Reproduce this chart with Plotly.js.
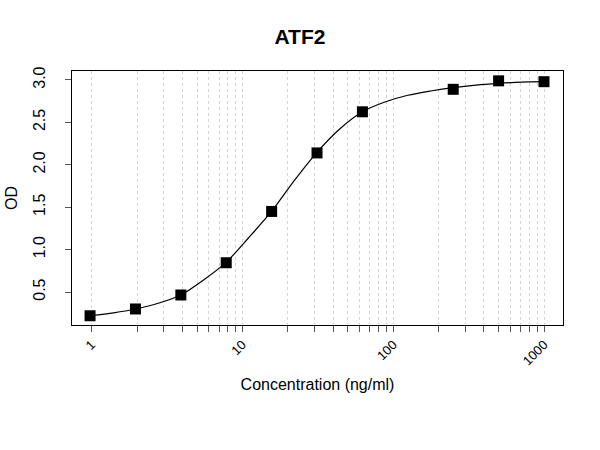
<!DOCTYPE html>
<html>
<head>
<meta charset="utf-8">
<script src="https://cdn.plot.ly/plotly-3.0.1.min.js"></script>
<style>
  body { margin: 0; background: #fff; }
  #chart { width: 600px; height: 450px; }
</style>
</head>
<body>
<div id="chart"></div>
<script>
// measured standards (two-fold dilution from 1000 ng/ml, 125 missing)
const conc = [0.9765625, 1.953125, 3.90625, 7.8125, 15.625, 31.25, 62.5, 250, 500, 1000];
const od = [0.22, 0.30, 0.465, 0.845, 1.45, 2.14, 2.625, 2.89, 2.99, 2.98];

// fitted curve
const curveConc = [0.977, 1.4, 1.95, 2.8, 3.9, 5.5, 7.8, 11, 15.6, 22, 31.3, 44, 62.5, 88, 125, 177, 250, 354, 500, 707, 1000];
const curveOd = [0.22, 0.255, 0.30, 0.37, 0.465, 0.64, 0.85, 1.14, 1.45, 1.81, 2.15, 2.42, 2.625, 2.74, 2.82, 2.87, 2.91, 2.94, 2.96, 2.975, 2.98];

// x tick marks: every digit of each decade, labels only on the decades
const decades = [1, 10, 100, 1000];
const digits = [1, 2, 3, 4, 5, 6, 7, 8, 9];
const yTicks = [0.5, 1.0, 1.5, 2.0, 2.5, 3.0];

let tickvals = [];
let ticktext = [];
decades.forEach((d) => {
  digits.forEach((k) => {
    if (d === 1000 && k > 1) return;
    tickvals.push(d * k);
    ticktext.push(k === 1 ? String(d) : '');
  });
});

const data = [
  {
    type: 'scatter',
    mode: 'lines',
    x: curveConc,
    y: curveOd,
    line: { color: '#000', width: 1.2, shape: 'spline', smoothing: 0.8 },
    hoverinfo: 'skip'
  },
  {
    type: 'scatter',
    mode: 'markers',
    x: conc,
    y: od,
    marker: { symbol: 'square', size: 11, color: '#000' }
  }
];

const layout = {
  width: 600,
  height: 450,
  showlegend: false,
  paper_bgcolor: '#fff',
  plot_bgcolor: '#fff',
  font: { family: 'Liberation Sans, Arial, sans-serif', color: '#000' },
  margin: { l: 72, r: 37, t: 71, b: 125 },
  title: {
    text: '<b>ATF2</b>',
    font: { size: 21, color: '#000' },
    x: 0.5,
    xanchor: 'center',
    y: 0.918,
    yanchor: 'middle'
  },
  xaxis: {
    type: 'log',
    range: [-0.13, 3.126],
    tickmode: 'array',
    tickvals: tickvals,
    ticktext: ticktext,
    tickangle: -45,
    tickfont: { size: 13 },
    ticks: 'outside',
    ticklen: 6,
    tickcolor: '#555',
    showgrid: true,
    gridcolor: '#d4d4d4',
    griddash: 'dot',
    gridwidth: 1,
    showline: true,
    linecolor: '#000',
    linewidth: 1,
    mirror: true,
    zeroline: false,
    title: { text: 'Concentration (ng/ml)', font: { size: 16 }, standoff: 11 }
  },
  yaxis: {
    range: [0.111, 3.106],
    tickmode: 'array',
    tickvals: yTicks,
    ticktext: yTicks.map((v) => v.toFixed(1)),
    tickangle: -90,
    tickfont: { size: 16 },
    ticks: 'outside',
    ticklen: 6,
    tickcolor: '#555',
    ticklabelstandoff: 14,
    showgrid: false,
    showline: true,
    linecolor: '#000',
    linewidth: 1,
    mirror: true,
    zeroline: false,
    title: { text: 'OD', font: { size: 16 }, standoff: 8 }
  }
};

Plotly.newPlot('chart', data, layout, { staticPlot: true });
</script>
</body>
</html>
